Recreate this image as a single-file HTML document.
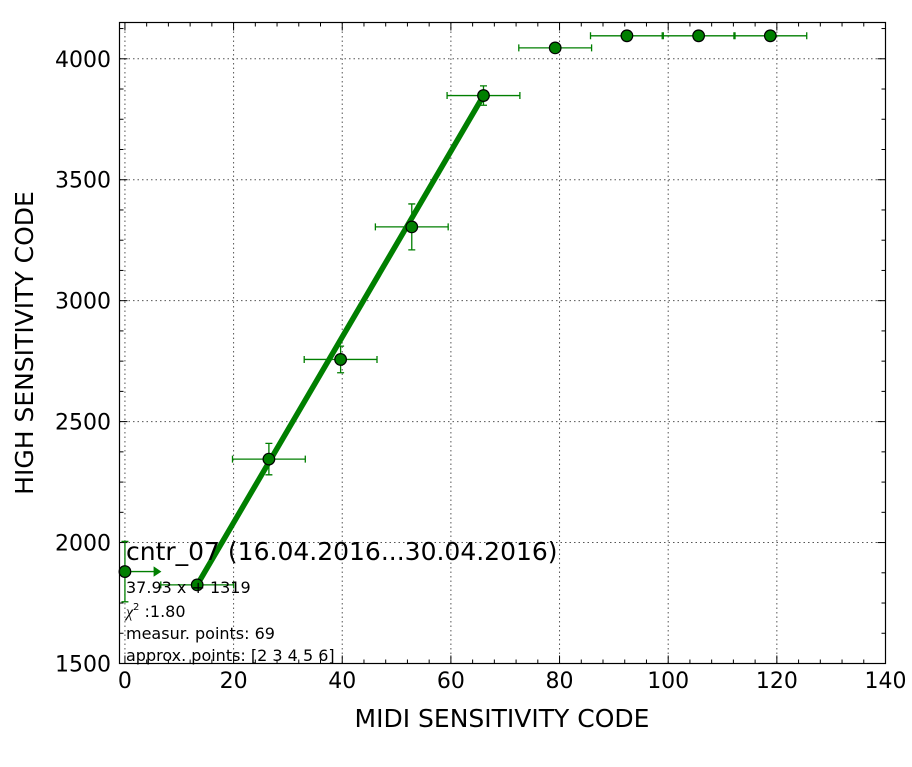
<!DOCTYPE html>
<html><head><meta charset="utf-8"><style>
html,body{margin:0;padding:0;background:#fff;}
svg text{font-family:"DejaVu Sans","Liberation Sans",sans-serif;}
</style></head><body>
<svg id="chart" width="912" height="762" viewBox="0 0 912 762" xmlns="http://www.w3.org/2000/svg">
<g id="grid"></g>
<g id="ticks"></g>
<g id="series"></g>
<rect x="119.5" y="22.5" width="766" height="641" fill="none" stroke="#000" stroke-width="1.2"/>
<text x="502" y="727" font-size="25" text-anchor="middle">MIDI SENSITIVITY CODE</text>
<text transform="translate(33,343) rotate(-90)" font-size="25" text-anchor="middle">HIGH SENSITIVITY CODE</text>
<g>
<text x="126" y="560" font-size="25">cntr_07 (16.04.2016...30.04.2016)</text>
<text x="126" y="593" font-size="16">37.93 x + 1319</text>
<text x="126" y="617" font-size="16"><tspan font-family="Liberation Serif" font-style="italic">χ</tspan><tspan font-size="10" dy="-7">2</tspan><tspan dy="7"> :1.80</tspan></text>
<text x="126" y="639" font-size="16">measur. points: 69</text>
<text x="126" y="661" font-size="16">approx. points: [2 3 4 5 6]</text>
</g>
</svg>
<script>
const xVals = [0, 13.3, 26.5, 39.7, 52.8, 66, 79.2, 92.4, 105.6, 118.8];
const yVals = [1880, 1825, 2345, 2757, 3305, 3848, 4045, 4095, 4095, 4095];
const xErr = [0, 6.7, 6.7, 6.7, 6.7, 6.7, 6.7, 6.7, 6.7, 6.7];
const yErr = [125, 0, 65, 55, 95, 40, 0, 0, 0, 0];
const fitX = [13.3, 66];
const fitY = [1825, 3848];
const xTicks = [0, 20, 40, 60, 80, 100, 120, 140];
const yTicks = [1500, 2000, 2500, 3000, 3500, 4000];

const X0=119.5, X1=885.5, Y0=663.5, Y1=22.5;
const xMin=-1, xMax=140, yMin=1500, yMax=4150;
const sx = v => X0 + (v - xMin) / (xMax - xMin) * (X1 - X0);
const sy = v => Y0 - (v - yMin) / (yMax - yMin) * (Y0 - Y1);
const NS="http://www.w3.org/2000/svg";
function mk(parent, tag, attrs){const e=document.createElementNS(NS,tag);for(const k in attrs)e.setAttribute(k,attrs[k]);parent.appendChild(e);return e;}
const grid=document.getElementById('grid'), ticks=document.getElementById('ticks'), series=document.getElementById('series');
const G='#007f00';

xTicks.forEach(t=>{
  const x=sx(t);
  const g=mk(grid,'line',{x1:x,x2:x,y1:Y1,y2:Y0,stroke:'#555','stroke-width':1,'stroke-dasharray':'1.5,3'});
  
  
  const lab=mk(ticks,'text',{x:x,y:688,'font-size':22,'text-anchor':'middle'});
  lab.textContent=t;
  
  
});
for(let v=0; v<=140; v+=4){
  const x=sx(v), len=(v%20===0)?8:4;
  const a=mk(ticks,'line',{x1:x,x2:x,y1:Y0,y2:Y0-len,stroke:'#000','stroke-width':1});
  
  
  const b=mk(ticks,'line',{x1:x,x2:x,y1:Y1,y2:Y1+len,stroke:'#000','stroke-width':1});
  
  
}
yTicks.forEach(t=>{
  const y=sy(t);
  const g=mk(grid,'line',{x1:X0,x2:X1,y1:y,y2:y,stroke:'#555','stroke-width':1,'stroke-dasharray':'1.5,3'});
  
  
  const lab=mk(ticks,'text',{x:111,y:y+8,'font-size':22,'text-anchor':'end'});
  lab.textContent=t;
  
  
});
for(let v=1500; v<=4150; v+=125){
  const y=sy(v), len=(v%500===0)?8:4;
  const a=mk(ticks,'line',{x1:X0,x2:X0+len,y1:y,y2:y,stroke:'#000','stroke-width':1});
  
  
  const b=mk(ticks,'line',{x1:X1,x2:X1-len,y1:y,y2:y,stroke:'#000','stroke-width':1});
  
  
}

// error bars
xVals.forEach((xv,i)=>{
  const x=sx(xv), y=sy(yVals[i]);
  if(xErr[i]>0){
    const l=sx(xv-xErr[i]), r=sx(xv+xErr[i]);
    const e=mk(series,'path',{d:`M${l},${y}H${r}M${l},${y-3.5}V${y+3.5}M${r},${y-3.5}V${y+3.5}`,stroke:G,'stroke-width':1.3,fill:'none'});
    
    
  } else if(i===0){
    const r=sx(xv+6.5);
    const e=mk(series,'path',{d:`M${x},${y}H${r}M${r-6},${y-4}L${r},${y}L${r-6},${y+4}Z`,stroke:G,'stroke-width':1.3,fill:G});
    
    
  }
  if(yErr[i]>0){
    const t=sy(yVals[i]+yErr[i]), b=sy(yVals[i]-yErr[i]);
    const e=mk(series,'path',{d:`M${x},${t}V${b}M${x-3.5},${t}H${x+3.5}M${x-3.5},${b}H${x+3.5}`,stroke:G,'stroke-width':1.3,fill:'none'});
    
    
  }
});
// fit line
const fl=mk(series,'line',{x1:sx(fitX[0]),y1:sy(fitY[0]),x2:sx(fitX[1]),y2:sy(fitY[1]),stroke:G,'stroke-width':5.5});


// markers
xVals.forEach((xv,i)=>{
  const c=mk(series,'circle',{cx:sx(xv),cy:sy(yVals[i]),r:5.8,fill:G,stroke:'#000','stroke-width':1.2});
  
  
});
</script>
</body></html>
